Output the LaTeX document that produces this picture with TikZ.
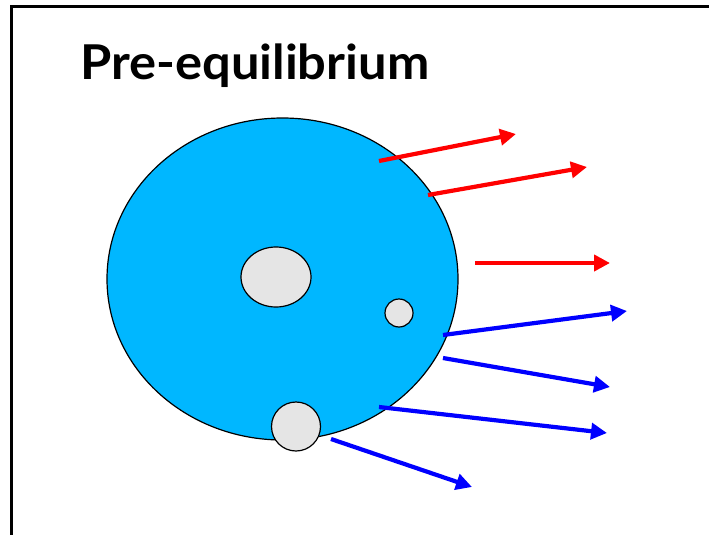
\documentclass[tikz,border=0pt]{standalone}
\usepackage{fontspec}
\setmainfont{Lato}
\newfontfamily\titlefont[FakeStretch=1.055]{Lato}
\usetikzlibrary{arrows.meta,shapes.geometric}
\definecolor{skyfill}{RGB}{0,183,255}
\definecolor{nucgrey}{RGB}{229,229,229}
\tikzset{
  redarrow/.style={draw={rgb,255:red,255;green,0;blue,0}, line width=4.2pt, -{Triangle[length=16pt,width=16pt]}},
  bluearrow/.style={draw={rgb,255:red,0;green,0;blue,255}, line width=4.2pt, -{Triangle[length=16pt,width=16pt]}},
  nucleon/.style={ellipse, draw=black, line width=1.2pt, fill=nucgrey, inner sep=0pt}
}
\begin{document}
\begin{tikzpicture}[x=1pt,y=-1pt]
\useasboundingbox (0,0) rectangle (709,535);
\draw[line width=3pt] (11,560) -- (11,7) -- (740,7);
\node[anchor=base west, font=\titlefont\bfseries\fontsize{48}{50}\selectfont, inner sep=0pt] (title) at (80,79) {Pre-equilibrium};
\node[ellipse, draw=black, line width=1.2pt, fill=skyfill, minimum width=351pt, minimum height=322pt, inner sep=0pt] (nucleus) at (282.5,279) {};
\node[nucleon, minimum width=70pt, minimum height=60pt] (n1) at (276,277) {};
\node[nucleon, minimum width=28pt, minimum height=28pt] (n2) at (399,313) {};
% arrows
\coordinate (r1s) at (379,161); \coordinate (r1e) at (516,134);
\coordinate (r2s) at (428,195); \coordinate (r2e) at (587,167);
\coordinate (r3s) at (475,263); \coordinate (r3e) at (610,263);
\coordinate (b1s) at (443,335); \coordinate (b1e) at (627,311);
\coordinate (b2s) at (443,358); \coordinate (b2e) at (610,387);
\coordinate (b3s) at (379,407); \coordinate (b3e) at (607,433);
\coordinate (b4s) at (331,439); \coordinate (b4e) at (472,487);
\draw[redarrow] (r1s) -- (r1e);
\draw[redarrow] (r2s) -- (r2e);
\draw[redarrow] (r3s) -- (r3e);
\draw[bluearrow] (b1s) -- (b1e);
\draw[bluearrow] (b2s) -- (b2e);
\draw[bluearrow] (b3s) -- (b3e);
\draw[bluearrow] (b4s) -- (b4e);
\node[nucleon, minimum width=49pt, minimum height=49pt] (n3) at (296,426.5) {};
\end{tikzpicture}
\end{document}
